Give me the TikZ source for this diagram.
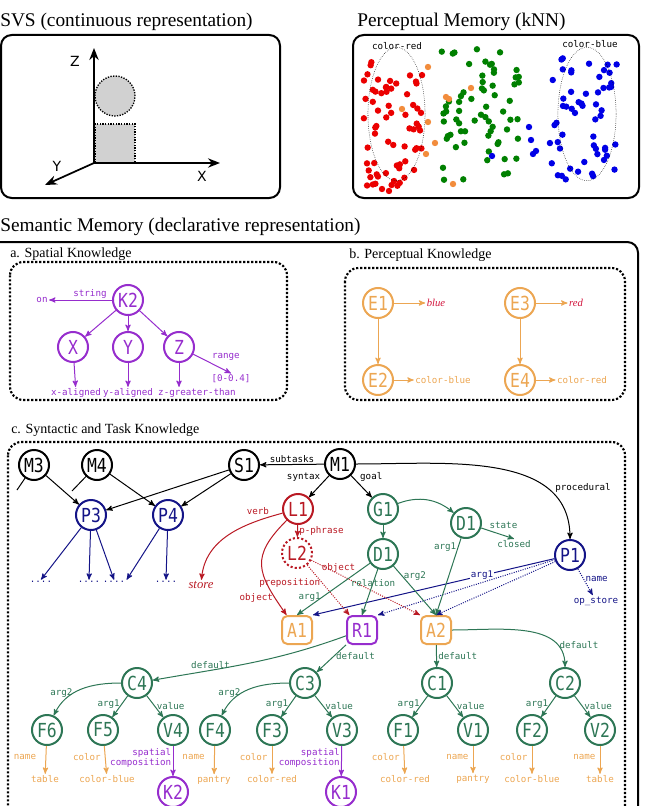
\documentclass[tikz,border=0pt]{standalone}
\usepackage{fontspec}
\setmainfont{Liberation Serif}
\setsansfont{DejaVu Sans}
\setmonofont{DejaVu Sans Mono}
\newfontfamily\nodefamily[FakeStretch=0.85]{DejaVu Sans Mono}
\usetikzlibrary{arrows, arrows.meta, positioning}
\definecolor{spat}{RGB}{150,45,205}
\definecolor{perc}{RGB}{236,166,82}
\definecolor{task}{RGB}{45,118,85}
\definecolor{lang}{RGB}{185,25,35}
\definecolor{proc}{RGB}{20,20,135}
\definecolor{crim}{RGB}{210,20,60}
\definecolor{ptred}{RGB}{235,0,0}
\definecolor{ptgreen}{RGB}{0,128,0}
\definecolor{ptblue}{RGB}{0,0,230}
\definecolor{ptorange}{RGB}{242,140,60}
\newcommand{\lblfont}{\ttfamily\fontsize{6.9}{8}\selectfont}
\tikzset{->, >=stealth', x=0.75pt, y=-0.75pt,
  title/.style={anchor=west, inner sep=0pt, font=\fontsize{14.5}{16}\selectfont},
  subtitle/.style={anchor=west, inner sep=0pt, font=\fontsize{10.5}{12}\selectfont},
  panel/.style={rounded corners=8pt, line width=1.5pt},
  group/.style={rounded corners=10pt, line width=1.6pt, dash pattern=on 1.6pt off 1.4pt},
  mem/.style={circle, draw, line width=1.5pt, minimum size=22.5pt, inner sep=0pt, font=\nodefamily\fontsize{14.5}{15}\selectfont},
  slot/.style={rectangle, rounded corners=4pt, draw, line width=1.5pt, minimum width=22.5pt, minimum height=21pt, inner sep=0pt, font=\nodefamily\fontsize{14.5}{15}\selectfont},
  val/.style={inner sep=1pt, font=\lblfont},
  lbls/.style={inner sep=1pt, font=\lblfont, line width=0.75pt},
  axis/.style={line width=1.3pt, -{Stealth[length=9pt, width=7pt]}},
  axlbl/.style={inner sep=0pt, font=\sffamily\fontsize{10.5}{12}\selectfont},
  word/.style={inner sep=1pt, font=\itshape\fontsize{8}{9}\selectfont},
}
\begin{document}
\begin{tikzpicture}
\useasboundingbox (0,0) rectangle (646,806);

% SVS
\node[title] (svs) at (0,22) {SVS (continuous representation)};
\draw[panel] (1,35) rectangle (280,198);
\draw[fill=black!18, line width=1pt, densely dotted] (95,124) rectangle (135,163);
\draw[fill=black!18, line width=1pt, densely dotted] (115,96) circle (15pt);
\coordinate (orig) at (94,163);
\coordinate (zend) at (94,48);
\coordinate (xend) at (220,163);
\coordinate (yend) at (45,185);
\draw[axis] (orig) -- (zend);
\draw[axis] (orig) -- (xend);
\draw[axis] (orig) -- (yend);
\node[axlbl] (zlab) at (75,61) {Z};
\node[axlbl] (xlab) at (202,176) {X};
\node[axlbl] (ylab) at (57,166) {Y};

% perceptual memory
\node[title] (pm) at (357,22) {Perceptual Memory (kNN)};
\draw[panel] (353,35) rectangle (639,198);
\pgfmathsetseed{42}
\foreach \i in {1,...,64} {\fill[ptred] ({363+60*rnd},{62+128*rnd}) circle (2.4pt);}
\foreach \i in {1,...,66} {\fill[ptgreen] ({440+80*rnd},{45+137*rnd}) circle (2.4pt);}
\foreach \i in {1,...,56} {\fill[ptblue] ({548+70*rnd},{56+124*rnd}) circle (2.4pt);}
\foreach \p in {(492,156),(529,127),(531,140),(533,154),(536,151)} {\fill[ptblue] \p circle (2.4pt);}
\foreach \p in {(382,189),(389,191),(394,181)} {\fill[ptred] \p circle (2.4pt);}
\foreach \p in {(428,67),(446,97),(449,99),(471,88),(402,109),(428,122),(435,143),(426,154),(453,184)} {\fill[ptorange] \p circle (2.4pt);}
\draw[densely dotted, thin] (396.5,114) ellipse [x radius=21.4pt, y radius=50pt];
\draw[densely dotted, thin] (587,114) ellipse [x radius=21.8pt, y radius=50pt];
\node[val] (cred) at (397,46) {color-red};
\node[val] (cblue) at (590,44) {color-blue};

% semantic memory
\node[title] (sem) at (0,227) {Semantic Memory (declarative representation)};
\draw[panel] (-12,242) rectangle (638,840);
\draw[group] (10,262) rectangle (287,400);
\node[subtitle] (spk) at (10,254) {a. Spatial Knowledge};
\draw[group] (345,268) rectangle (625,400);
\node[subtitle] (pk) at (349,255) {b. Perceptual Knowledge};
\draw[group] (8,442) rectangle (625,840);
\node[subtitle] (stk) at (11,430) {c. Syntactic and Task Knowledge};

% a. spatial
\node[mem, spat] (k2) at (128,300) {K2};
\node[mem, spat] (nx) at (73,347) {X};
\node[mem, spat] (ny) at (128,347) {Y};
\node[mem, spat] (nz) at (179,347) {Z};
\node[val, spat] (on) at (42,300) {on};
\node[val, spat] (rng) at (231,379) {[0-0.4]};
\node[val, spat] (xal) at (76,393) {x-aligned};
\node[val, spat] (yal) at (128,393) {y-aligned};
\node[val, spat] (zgt) at (197,393) {z-greater-than};
\draw[spat, lbls] (k2) edge node[above, pos=0.35]{string} (on)
  (k2) edge (nx) (k2) edge (ny) (k2) edge (nz)
  (nz) edge node[above right, pos=0.45]{range} (rng.north)
  (nx) edge (xal) (ny) edge (yal) (nz) edge (nz |- zgt.north);

% b. perceptual
\node[mem, perc] (e1) at (378,303) {E1};
\node[mem, perc] (e2) at (378,380) {E2};
\node[mem, perc] (e3) at (520,303) {E3};
\node[mem, perc] (e4) at (520,380) {E4};
\node[word, crim] (blue) at (436,303) {blue};
\node[word, crim] (red) at (576,303) {red};
\node[val, perc] (cb) at (443,380) {color-blue};
\node[val, perc] (cr) at (582,380) {color-red};
\draw[perc, lbls] (e1) edge (e2) (e3) edge (e4) (e1) edge (blue) (e3) edge (red)
  (e2) edge (cb) (e4) edge (cr);

% c. syntactic and task
\node[mem] (m3) at (34,465) {M3};
\node[mem] (m4) at (97,465) {M4};
\node[mem] (s1) at (244,465) {S1};
\node[mem] (m1) at (340,464) {M1};
\coordinate (m3stub) at (17,490);
\coordinate (m4stub) at (72,491);
\node[mem, proc] (p3) at (91,515) {P3};
\node[mem, proc] (p4) at (168,515) {P4};
\node[val, proc] (dt1) at (41,582) {....};
\node[val, proc] (dt2) at (89,582) {....};
\node[val, proc] (dt3) at (114,582) {....};
\node[val, proc] (dt4) at (166,582) {....};
\node[mem, lang] (l1) at (298,509) {L1};
\node[mem, lang, dash pattern=on 1.6pt off 1.6pt] (l2) at (297,553) {L2};
\node[inner sep=1pt, lang, font=\itshape\fontsize{9.5}{11}\selectfont] (store) at (201,585) {store};
\node[mem, task] (g1) at (383,509) {G1};
\node[mem, task] (d1) at (383,554) {D1};
\node[mem, task] (d2) at (466,523) {D1};
\node[val, task] (closed) at (514,544) {closed};
\node[mem, proc] (p1) at (570,555) {P1};
\node[val, proc] (opst) at (596,601) {op\_store};
\node[slot, perc] (a1) at (297,630) {A1};
\node[slot, spat] (r1) at (362,630) {R1};
\node[slot, perc] (a2) at (436,630) {A2};
\node[mem, task] (c4) at (137,683) {C4};
\node[mem, task] (c3) at (305,683) {C3};
\node[mem, task] (c1) at (437,683) {C1};
\node[mem, task] (c2) at (565,683) {C2};
\node[mem, task] (f6) at (47,730) {F6};
\node[mem, task] (f5) at (103,730) {F5};
\node[mem, task] (v4) at (173,730) {V4};
\node[mem, task] (f4) at (215,730) {F4};
\node[mem, task] (f3) at (272,730) {F3};
\node[mem, task] (v3) at (342,730) {V3};
\node[mem, task] (f1) at (403,730) {F1};
\node[mem, task] (v1) at (473,730) {V1};
\node[mem, task] (f2) at (532,730) {F2};
\node[mem, task] (v2) at (600,730) {V2};
\node[val, perc] (tf6) at (45,779) {table};
\node[val, perc] (tf5) at (107,779) {color-blue};
\node[val, perc] (tf4) at (214,780) {pantry};
\node[val, perc] (tf3) at (272,779) {color-red};
\node[val, perc] (tf1) at (405,779) {color-red};
\node[val, perc] (tv1) at (473,779) {pantry};
\node[val, perc] (tf2) at (532,779) {color-blue};
\node[val, perc] (tv2) at (600,779) {table};
\node[mem, spat] (k2b) at (173,792) {K2};
\node[mem, spat] (k1) at (341,792) {K1};

\draw[lbls] (m1) edge[above] node{subtasks} (s1)
  (m1) edge node[above left, pos=0.35]{syntax} (l1)
  (m1) edge node[above right, pos=0.35]{goal} (g1)
  (m1) edge[out=0, in=90] node[above right, pos=0.78]{procedural} (p1)
  (m3) edge (p3) (m4) edge (p4) (s1) edge (p3) (s1) edge (p4)
  (m3) edge[-] (m3stub) (m4) edge[-] (m4stub);
\draw[proc, lbls] (p3) edge (dt1.north) (p3) edge (dt2.north) (p3) edge (dt3.north)
  (p4) edge (dt3.north east) (p4) edge (dt4.north)
  (p1) edge node[fill=white, pos=0.3]{arg1} (a1.north east)
  (p1) edge[densely dotted] (r1.north east) (p1) edge[densely dotted] (a2.north)
  (p1) edge[densely dotted] node[right, pos=0.4]{name} (opst);
\draw[lang, lbls] (l1) edge[out=195, in=85] node[above left, pos=0.1]{verb} (store)
  (l1) edge node[right]{p-phrase} (l2)
  (l1) edge[out=225, in=125, looseness=1.4] node[left, pos=0.85]{object} (a1)
  (l2) edge[densely dotted] node[left, pos=0.35]{preposition} (r1)
  (l2) edge[densely dotted] node[above, pos=0.25]{object} (a2.north west);
\draw[task, lbls] (g1) edge (d1) (g1) edge[bend left=30] (d2)
  (d2) edge node[above right, pos=0.2]{state} (closed.north)
  (d2) edge node[left, pos=0.12]{arg1} (a2.north)
  (d1) edge node[left, pos=0.65]{arg1} (a1.north)
  (d1) edge node[pos=0.3]{relation} (r1.north)
  (d1) edge node[right, pos=0.2]{arg2} (a2.north)
  (r1) edge[out=200, in=10] node[above, pos=0.72]{default} (c4)
  (r1) edge node[right, pos=0.4]{default} (c3)
  (a2) edge node[right]{default} (c1)
  (a2) edge[out=0, in=90] node[right, pos=0.8]{default} (c2)
  (c4) edge[out=180, in=65] node[left, pos=0.6]{arg2} (f6)
  (c4) edge node[left, pos=0.4]{arg1} (f5)
  (c4) edge node[right, pos=0.5]{value} (v4)
  (c3) edge[out=180, in=65] node[left, pos=0.6]{arg2} (f4)
  (c3) edge node[left, pos=0.4]{arg1} (f3)
  (c3) edge node[right, pos=0.5]{value} (v3)
  (c1) edge node[left, pos=0.4]{arg1} (f1)
  (c1) edge node[right, pos=0.5]{value} (v1)
  (c2) edge node[left, pos=0.4]{arg1} (f2)
  (c2) edge node[right, pos=0.5]{value} (v2);
\draw[perc, lbls] (f6) edge node[left=6pt, pos=0.4]{name} (tf6)
  (f5) edge node[left=2pt, pos=0.4]{color} (tf5)
  (f4) edge node[left=6pt, pos=0.4]{name} (tf4)
  (f3) edge node[left=2pt, pos=0.4]{color} (tf3)
  (f1) edge node[left=2pt, pos=0.4]{color} (tf1)
  (v1) edge node[left=2pt, pos=0.4]{name} (tv1)
  (f2) edge node[left=2pt, pos=0.4]{color} (tf2)
  (v2) edge node[left=2pt, pos=0.4]{name} (tv2);
\draw[spat, lbls] (v4) edge node[left, align=right, pos=0.4]{spatial\\composition} (k2b)
  (v3) edge node[left, align=right, pos=0.4]{spatial\\composition} (k1);
\end{tikzpicture}
\end{document}
